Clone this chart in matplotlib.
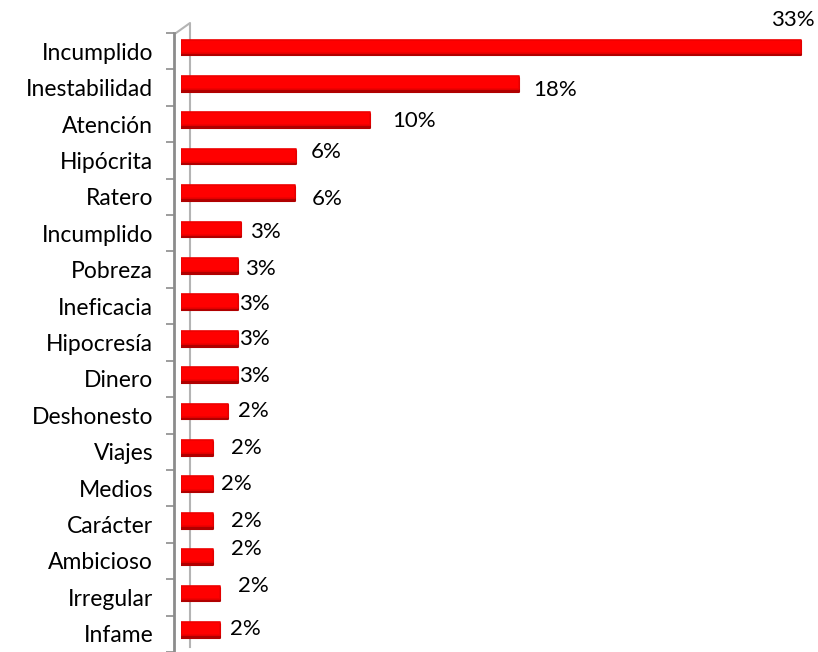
import matplotlib.pyplot as plt
from matplotlib.lines import Line2D

plt.rcParams['font.family'] = ['Lato', 'DejaVu Sans']

categories = ["Incumplido", "Inestabilidad", "Atención", "Hipócrita", "Ratero",
              "Incumplido", "Pobreza", "Ineficacia", "Hipocresía", "Dinero",
              "Deshonesto", "Viajes", "Medios", "Carácter", "Ambicioso",
              "Irregular", "Infame"]
# bar lengths
values = [33.0, 18.0, 10.05, 6.1, 6.05, 3.2, 3.05, 3.05, 3.05, 3.05,
          2.5, 1.7, 1.7, 1.7, 1.7, 2.1, 2.1]
labels = ["33%", "18%", "10%", "6%", "6%", "3%", "3%", "3%", "3%", "3%",
          "2%", "2%", "2%", "2%", "2%", "2%", "2%"]

# label offsets in pixels (dx from bar end to label centre, dy upward from bar centre)
label_dx = [-9, 36, 44, 31, 32, 24, 22, 16, 16, 16, 25, 33, 23, 33, 33, 33, 25]
label_dy = [26, -7, -2, 3, -7, -4, -4, -3, -2, -2, -1, -1, -1, -2, 7, 6, 0]

W, H = 818, 652
fig = plt.figure(figsize=(W / 100, H / 100), dpi=100)
ax = fig.add_axes([181 / W, 0, (W - 181) / W, (H - 33) / H])
ax.patch.set_visible(False)

y = list(range(len(categories)))
shift = 0.14
ax.barh([i - shift + 0.06 for i in y], values, height=0.38, color='#b00000',
        edgecolor='#b00000', linewidth=1.5, joinstyle='round', zorder=2)
ax.barh([i - shift for i in y], values, height=0.36, color='#ff0000',
        edgecolor='#ee0000', linewidth=1.2, joinstyle='round', zorder=3)

ax.set_xlim(0, (W - 181) / 18.8)
ax.set_ylim(len(categories) - 0.5, -0.5)

for i, (v, lab) in enumerate(zip(values, labels)):
    ax.annotate(lab, (v, i - shift), xytext=(label_dx[i] * 0.72, label_dy[i] * 0.72),
                textcoords='offset points', ha='center', va='center',
                fontsize=16, color='black')

for s in ['top', 'right', 'bottom']:
    ax.spines[s].set_visible(False)
ax.spines['left'].set_position(('outward', 5))
ax.spines['left'].set_color('#8c8c8c')
ax.spines['left'].set_linewidth(2)
ax.set_xticks([])
ax.set_yticks([i - 0.5 for i in y] + [len(y) - 0.5])
ax.set_yticklabels([])
ax.tick_params(axis='y', which='major', length=6, width=1.2, color='#8c8c8c', direction='out')
ax.set_yticks(y, minor=True)
ax.set_yticklabels(categories, minor=True, fontsize=16.5)
ax.tick_params(axis='y', which='minor', length=0, pad=15)

# back edge of the 3D wall, behind the bars
fig.add_artist(Line2D([176 / W, 190 / W, 190 / W], [1 - 33 / H, 1 - 23 / H, 1 - 647 / H],
                      color='#b4b4b4', linewidth=1.5, zorder=-1))

fig.savefig('out.png', dpi=100)
